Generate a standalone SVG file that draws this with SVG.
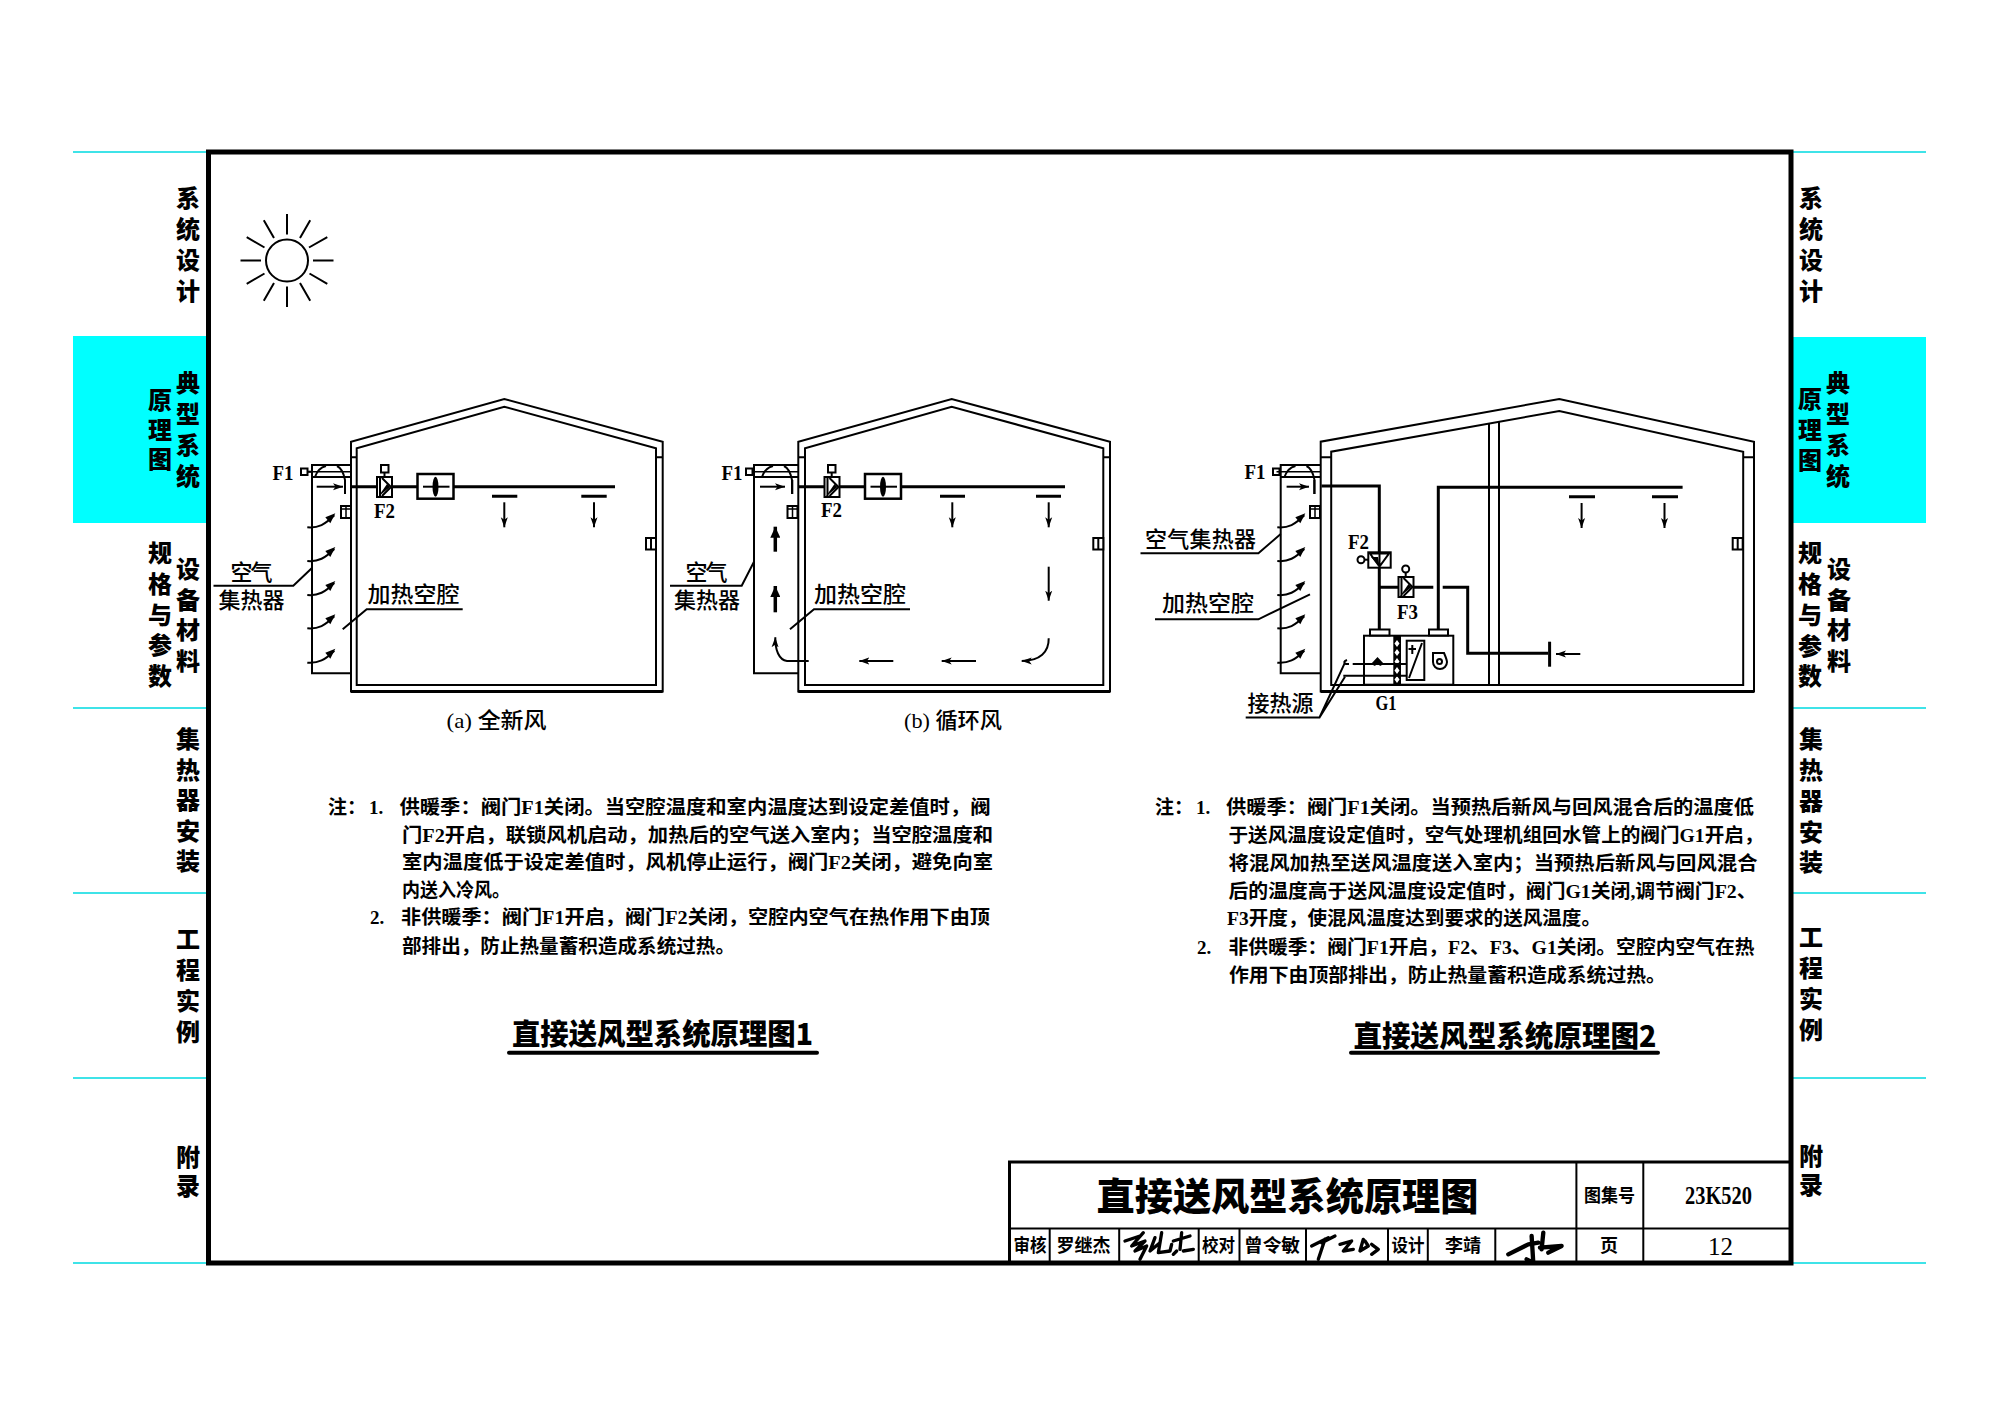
<svg xmlns="http://www.w3.org/2000/svg" width="2000" height="1414" viewBox="0 0 2000 1414">
<style>
text{font-family:"Liberation Serif","Noto Sans CJK SC",serif;font-weight:700;fill:#000;dominant-baseline:central}
.s{font-family:"Noto Sans CJK SC",sans-serif;font-size:24px;font-weight:900;writing-mode:vertical-rl;dominant-baseline:auto}
.n{font-size:19px}
.l{font-size:22px;font-weight:500;text-anchor:middle}
.f{font-size:22px;font-weight:700;text-anchor:middle}
.t{font-family:"Noto Sans CJK SC",sans-serif;font-size:29px;font-weight:900}
.b{font-size:18px;text-anchor:middle}
.k{fill:none;stroke:#000;stroke-width:2}
.k1{fill:none;stroke:#000;stroke-width:1.5}
.k3{fill:none;stroke:#000;stroke-width:3}
.w{fill:#fff;stroke:#000;stroke-width:2}
.c{stroke:#3fe3e8;stroke-width:2}
.ar{fill:none;stroke:#000;stroke-width:2;marker-end:url(#a)}
.au{fill:none;stroke:#000;stroke-width:3.5;marker-end:url(#u)}
.sg{fill:none;stroke:#000;stroke-width:10;stroke-linecap:round;stroke-linejoin:round}
</style>
<defs>
<marker id="a" markerUnits="userSpaceOnUse" markerWidth="12" markerHeight="8" refX="10" refY="4" orient="auto"><path d="M0,0.5 L10,4 L0,7.5 L2.5,4 Z"/></marker>
<marker id="u" markerUnits="userSpaceOnUse" markerWidth="12" markerHeight="10" refX="11" refY="5" orient="auto"><path d="M0,0 L11,5 L0,10 Z"/></marker>
<g id="ca"><path d="M0,0 C11,1 18,-3 27,-12" fill="none" stroke="#000" stroke-width="2"/><path d="M28,-14 L18,-10 L23,-4 Z"/></g>
<g id="box"><rect x="0" y="0" width="10" height="12" class="w"/><path d="M5,1 V12 M0,3 H10" class="k1"/></g>
<g id="boxr"><rect x="0" y="0" width="10" height="11.5" class="w"/><path d="M5,0 V11.5" class="k"/></g>
<g id="valve"><rect x="0" y="0" width="15" height="20" class="w"/><path d="M5,1 L14,10 L5,19 M3,1 V19" class="k"/><path d="M1,20 L13,10 L10,7 Z"/></g>
<g id="fan"><rect x="0" y="0" width="36" height="24.7" fill="#fff" stroke="#000" stroke-width="2.5"/><path d="M5.5,12.7 H32" class="k"/><ellipse cx="18" cy="12.7" rx="3" ry="10"/></g>
<g id="damper"><path d="M3,12 Q6,3 14,1" class="k"/><path d="M33,29 V15 Q31,4 25,1" class="k"/><path d="M-5,6.7H39" class="k1"/></g>
</defs>
<rect width="2000" height="1414" fill="#fff"/>

<g id="tab-left">
<rect x="73" y="336" width="134" height="187" fill="#00ffff"/>
<path class="c" d="M73,152H207M73,708H207M73,893H207M73,1078H207M73,1263H207"/>
<text class="s" x="188" y="186" letter-spacing="7">系统设计</text>
<text class="s" x="188" y="371" letter-spacing="7">典型系统</text>
<text class="s" x="160" y="388" letter-spacing="5.5">原理图</text>
<text class="s" x="188" y="557" letter-spacing="6.5">设备材料</text>
<text class="s" x="160" y="541" letter-spacing="6.7">规格与参数</text>
<text class="s" x="188" y="727" letter-spacing="6.5">集热器安装</text>
<text class="s" x="188" y="927" letter-spacing="7">工程实例</text>
<text class="s" x="188" y="1145" letter-spacing="5">附录</text>
</g>

<g id="tab-right">
<rect x="1793" y="337" width="133" height="186" fill="#00ffff"/>
<path class="c" d="M1793,152H1926M1793,708H1926M1793,893H1926M1793,1078H1926M1793,1263H1926"/>
<text class="s" x="1811" y="186" letter-spacing="7">系统设计</text>
<text class="s" x="1838" y="371" letter-spacing="7">典型系统</text>
<text class="s" x="1810" y="387" letter-spacing="6.5">原理图</text>
<text class="s" x="1839" y="557" letter-spacing="6.5">设备材料</text>
<text class="s" x="1810" y="541" letter-spacing="6.8">规格与参数</text>
<text class="s" x="1811" y="727" letter-spacing="6.8">集热器安装</text>
<text class="s" x="1811" y="925" letter-spacing="7">工程实例</text>
<text class="s" x="1811" y="1144" letter-spacing="5">附录</text>
</g>

<rect id="frame" x="208.5" y="152" width="1582.5" height="1111" fill="none" stroke="#000" stroke-width="5"/>

<g id="sun">
<circle cx="287" cy="260.5" r="21" class="k"/>
<path class="k" d="M287,234.5V214M300,238L310.2,220.2M309,247.5L327.3,237.2M313,260.5H333.5M309.5,273.5L327.3,283.8M300,283L310.2,300.8M287,286.5V307M274,283L263.8,300.8M264.5,273.5L246.7,283.8M261,260.5H240.5M264.5,247.5L246.7,237.2M274,238L263.8,220.2"/>
</g>

<g id="building-a">
<path class="k" d="M351,691.5V441.7L504.3,399L662.7,441.7V691.5Z" stroke-width="2.5"/>
<path class="k" d="M356.7,685V448.3L504.3,406.7L656,448.3V685Z"/>
<path class="k3" d="M351,691.5H662.7"/>
<path class="k" d="M351,457.3H356.7M656,457.3H662.7"/>
<g id="collector-a"><path class="k" d="M351,465H312V673.3H351M312,477H351"/><rect x="301" y="468.5" width="6.5" height="6.5" class="w"/><path class="k" d="M307.5,471.7H312"/><use href="#damper" x="312" y="465"/><use href="#box" x="341" y="506"/></g>
<use href="#boxr" x="646" y="538"/>
<use id="valve-f2-a" href="#valve" x="377" y="477"/>
<rect x="381" y="465" width="7.5" height="7.5" class="w"/><path class="k" d="M384.5,472.5V477"/>
<use id="fan-a" href="#fan" x="417.5" y="474"/>
<text class="f" x="283" y="472" textLength="21" lengthAdjust="spacingAndGlyphs">F1</text>
<text class="f" x="384.5" y="510.5" textLength="21" lengthAdjust="spacingAndGlyphs">F2</text>
<text class="l" x="251.5" y="572" textLength="42" lengthAdjust="spacing">空气</text>
<text class="l" x="251.5" y="600">集热器</text>
<text class="l" x="413.5" y="594" textLength="92" lengthAdjust="spacingAndGlyphs">加热空腔</text>
<text class="l" x="496.5" y="720" textLength="100" lengthAdjust="spacingAndGlyphs">(a) 全新风</text>
</g>

<g id="building-b">
<path class="k" d="M798.3,691.5V441.7L951.7,399L1110,441.7V691.5Z" stroke-width="2.5"/>
<path class="k" d="M805,685V448.3L951.7,406.7L1103.3,448.3V685Z"/>
<path class="k3" d="M798.3,691.5H1110"/>
<path class="k" d="M798.3,457.3H805M1103.3,457.3H1110"/>
<g id="collector-b"><path class="k" d="M798,465H754V673.3H798M754,477H798"/><rect x="746" y="468.5" width="6.5" height="6.5" class="w"/><path class="k" d="M752,471.7H754"/><use href="#damper" x="759" y="465"/><use href="#box" x="787.5" y="506"/></g>
<use href="#boxr" x="1093.3" y="538"/>
<use id="valve-f2-b" href="#valve" x="824.5" y="477"/>
<rect x="828" y="465" width="7.5" height="7.5" class="w"/><path class="k" d="M831.7,472.5V477"/>
<use id="fan-b" href="#fan" x="865" y="474"/>
<text class="f" x="732" y="472" textLength="21" lengthAdjust="spacingAndGlyphs">F1</text>
<text class="f" x="831.5" y="509.5" textLength="21" lengthAdjust="spacingAndGlyphs">F2</text>
<text class="l" x="706.5" y="572" textLength="42" lengthAdjust="spacing">空气</text>
<text class="l" x="707" y="600">集热器</text>
<text class="l" x="860" y="594" textLength="92" lengthAdjust="spacingAndGlyphs">加热空腔</text>
<text class="l" x="953" y="720" textLength="98" lengthAdjust="spacingAndGlyphs">(b) 循环风</text>
</g>

<g id="building-c">
<path class="k" d="M1320.7,691.5V441.7L1559.3,399L1754,441.7V691.5Z" stroke-width="2.5"/>
<path class="k" d="M1331.2,685V451.7L1559.3,411L1743.2,451.7V685Z"/>
<path class="k3" d="M1320.7,691.5H1754"/>
<path class="k" d="M1320.7,457.3H1331.2M1743.2,457.3H1754"/>
<path id="column-c" class="k" d="M1489,423.5V685M1499,421.7V685"/>
<g id="collector-c"><path class="k" d="M1320.7,465H1280.7V673.3H1320.7M1280.7,477H1320.7"/><rect x="1273" y="468.5" width="6.5" height="6.5" class="w"/><use href="#damper" x="1281.5" y="465"/><use href="#box" x="1310" y="506"/></g>
<use href="#boxr" x="1732.7" y="538"/>
<g id="ahu-c">
<rect x="1364" y="635.7" width="89.3" height="49" fill="#fff" stroke="#000" stroke-width="2"/>
<rect x="1370" y="629.5" width="19.5" height="6" class="w"/><rect x="1429" y="629.5" width="19" height="6" class="w"/>
<rect x="1393.3" y="635.7" width="7.7" height="49"/>
<path fill="#fff" d="M1397,640l2.5,3.5l-2.5,3.5l-2.5,-3.5ZM1397,649l2.5,3.5l-2.5,3.5l-2.5,-3.5ZM1397,658l2.5,3.5l-2.5,3.5l-2.5,-3.5ZM1397,667l2.5,3.5l-2.5,3.5l-2.5,-3.5ZM1397,676l2.5,3.5l-2.5,3.5l-2.5,-3.5Z"/>
<rect x="1406.7" y="640.7" width="17.6" height="39.3" class="w"/>
<path class="k" d="M1409,678L1422,643M1412.3,645V654M1408.5,649H1416"/>
<path class="k" d="M1433,653H1444Q1447,660 1447,662A7,7 0 0 1 1433,662Z" stroke-width="2.5"/><circle cx="1439.5" cy="661.5" r="2.5" class="k"/>
<path class="k" d="M1352.7,664H1406.7M1343.3,675.7H1406.7"/>
<path d="M1371,664L1377.5,657L1384,664L1380,666L1377.5,663L1375,666Z"/>
<path class="k" d="M1347,660Q1342,662 1346,664H1349"/>
</g>
<use id="valve-f3-c" href="#valve" x="1398.5" y="577"/>
<circle cx="1405.7" cy="569" r="3.5" class="w"/><path class="k" d="M1405.7,572.5V577"/>
<rect id="valve-f2-c" x="1368.3" y="552.3" width="22.4" height="15.4" class="w"/>
<path class="k" d="M1370,553.5H1389L1379.5,566.5Z M1379.5,552V568"/><path d="M1379.5,566.5L1371,557H1378Z"/>
<circle cx="1361" cy="559.7" r="3.5" class="w"/><path class="k" d="M1364.5,559.7H1368.3"/>
<text class="f" x="1255" y="471" textLength="21" lengthAdjust="spacingAndGlyphs">F1</text>
<text class="f" x="1358.5" y="541" textLength="21" lengthAdjust="spacingAndGlyphs">F2</text>
<text class="f" x="1407.5" y="611" textLength="21" lengthAdjust="spacingAndGlyphs">F3</text>
<text class="f" x="1386" y="702" textLength="21" lengthAdjust="spacingAndGlyphs">G1</text>
<text class="l" x="1200.5" y="539" textLength="111" lengthAdjust="spacing">空气集热器</text>
<text class="l" x="1208" y="603" textLength="92" lengthAdjust="spacingAndGlyphs">加热空腔</text>
<text class="l" x="1280.5" y="703" textLength="66" lengthAdjust="spacingAndGlyphs">接热源</text>
</g>

<g id="connectors">
<path class="k" d="M213.5,585.7H293.3L311.7,568.3M342.7,629.3L366.7,609.3H462.7"/>
<path class="k3" d="M350,486.7H377M392,486.7H417.5M453.5,486.7H615"/>
<path class="ar" d="M316.7,486.7H343"/><path class="k" d="M345,480V494"/>
<path class="k3" d="M492,496.3H517.3M581.3,496.3H606.7"/>
<path class="ar" d="M504.3,502.3V527.3"/><path class="ar" d="M594,502.3V527.3"/>
<use href="#ca" x="307.3" y="527.3"/><use href="#ca" x="307.3" y="561"/><use href="#ca" x="307.3" y="595"/><use href="#ca" x="307.3" y="628.3"/><use href="#ca" x="307.3" y="662.7"/>
<path class="k" d="M670,585.7H741.7L754,561.7M790,629.3L814,609.3H910"/>
<path class="k3" d="M798,486.7H824.5M839.5,486.7H865M901,486.7H1065"/>
<path class="ar" d="M760,486.7H785"/><path class="k" d="M792.3,480V494"/>
<path class="k3" d="M940,496.3H965M1036,496.3H1061"/>
<path class="ar" d="M952.3,502.3V527.3"/><path class="ar" d="M1048.7,502.3V527.3"/>
<path class="au" d="M775.3,551.7V526.7"/><path class="au" d="M775.3,612.3V586"/>
<path class="ar" d="M1048.7,566.7V600.7"/>
<path class="ar" d="M1048.7,638.3C1049,652 1040,661 1021.7,661"/>
<path class="ar" d="M976,661H941.7"/><path class="ar" d="M893.3,661H859.3"/>
<path class="ar" d="M808.7,661H787C779,660 775,650 775.3,637.3"/>
<path class="k" d="M1140.5,553.3H1258.4L1280.7,534M1155,619.3H1258.4L1310,594.3M1245.7,717.5H1319.5L1344.6,663.3M1319.5,717.5L1345,676.7"/>
<path class="k3" d="M1321.5,486H1379.3V552.3M1379.3,567.7V629.5M1379.3,587.3H1398.5M1413.5,587.3H1433.3M1442.7,587.3H1467.7V653.3H1548"/>
<path class="k3" d="M1438.3,629.5V487.3H1682.6"/>
<path class="k3" d="M1549.6,641.7V666.7"/>
<path class="ar" d="M1580.3,654H1556"/>
<path class="ar" d="M1286.6,486.7H1309"/><path class="k" d="M1314.3,480V494"/>
<path class="k3" d="M1569,496.7H1595M1652,496.7H1678"/>
<path class="ar" d="M1581.6,503V528"/><path class="ar" d="M1664.5,503V528"/>
<use href="#ca" x="1277.3" y="527.3"/><use href="#ca" x="1277.3" y="561"/><use href="#ca" x="1277.3" y="595"/><use href="#ca" x="1277.3" y="628.3"/><use href="#ca" x="1277.3" y="662.7"/>
</g>

<g id="notes-1">
<text class="n" x="328" y="807">注&#xFF1A;</text><text class="n" x="369" y="807">1.</text>
<text class="n" x="399.5" y="807" textLength="591" lengthAdjust="spacingAndGlyphs">供暖季&#xFF1A;阀门F1关闭&#x3002;当空腔温度和室内温度达到设定差值时&#xFF0C;阀</text>
<text class="n" x="402" y="835" textLength="591" lengthAdjust="spacingAndGlyphs">门F2开启&#xFF0C;联锁风机启动&#xFF0C;加热后的空气送入室内&#xFF1B;当空腔温度和</text>
<text class="n" x="402" y="862.5" textLength="591" lengthAdjust="spacingAndGlyphs">室内温度低于设定差值时&#xFF0C;风机停止运行&#xFF0C;阀门F2关闭&#xFF0C;避免向室</text>
<text class="n" x="402" y="890" textLength="108" lengthAdjust="spacingAndGlyphs">内送入冷风&#x3002;</text>
<text class="n" x="370" y="917.5">2.</text>
<text class="n" x="401" y="917.5" textLength="589" lengthAdjust="spacingAndGlyphs">非供暖季&#xFF1A;阀门F1开启&#xFF0C;阀门F2关闭&#xFF0C;空腔内空气在热作用下由顶</text>
<text class="n" x="402" y="946" textLength="333" lengthAdjust="spacingAndGlyphs">部排出&#xFF0C;防止热量蓄积造成系统过热&#x3002;</text>
</g>
<g id="title-1">
<text class="t" x="512" y="1032" textLength="301" lengthAdjust="spacingAndGlyphs">直接送风型系统原理图1</text>
<path d="M509,1052.7H817" stroke="#000" stroke-width="4" stroke-linecap="round"/>
</g>

<g id="notes-2">
<text class="n" x="1155" y="807">注&#xFF1A;</text><text class="n" x="1196" y="807">1.</text>
<text class="n" x="1226" y="807" textLength="528" lengthAdjust="spacingAndGlyphs">供暖季&#xFF1A;阀门F1关闭&#x3002;当预热后新风与回风混合后的温度低</text>
<text class="n" x="1228.5" y="835" textLength="535" lengthAdjust="spacingAndGlyphs">于送风温度设定值时&#xFF0C;空气处理机组回水管上的阀门G1开启&#xFF0C;</text>
<text class="n" x="1228.5" y="863" textLength="529" lengthAdjust="spacingAndGlyphs">将混风加热至送风温度送入室内&#xFF1B;当预热后新风与回风混合</text>
<text class="n" x="1228.5" y="891" textLength="528" lengthAdjust="spacingAndGlyphs">后的温度高于送风温度设定值时&#xFF0C;阀门G1关闭,调节阀门F2&#x3001;</text>
<text class="n" x="1227" y="918.5" textLength="374" lengthAdjust="spacingAndGlyphs">F3开度&#xFF0C;使混风温度达到要求的送风温度&#x3002;</text>
<text class="n" x="1197" y="947">2.</text>
<text class="n" x="1228.5" y="947" textLength="526" lengthAdjust="spacingAndGlyphs">非供暖季&#xFF1A;阀门F1开启&#xFF0C;F2&#x3001;F3&#x3001;G1关闭&#x3002;空腔内空气在热</text>
<text class="n" x="1229" y="975" textLength="437" lengthAdjust="spacingAndGlyphs">作用下由顶部排出&#xFF0C;防止热量蓄积造成系统过热&#x3002;</text>
</g>
<g id="title-2">
<text class="t" x="1353.5" y="1034" textLength="303" lengthAdjust="spacingAndGlyphs">直接送风型系统原理图2</text>
<path d="M1351,1052.7H1658" stroke="#000" stroke-width="4" stroke-linecap="round"/>
</g>

<g id="title-block">
<path class="k3" d="M1009.5,1263V1162H1791"/>
<path class="k" d="M1009.5,1228.5H1791M1576.4,1162V1263M1643.3,1162V1263M1049.7,1228.5V1263M1119.2,1228.5V1263M1198.7,1228.5V1263M1239.5,1228.5V1263M1306,1228.5V1263M1388,1228.5V1263M1427.8,1228.5V1263M1495.3,1228.5V1263"/>
<text x="1287.5" y="1193" font-size="38" text-anchor="middle" textLength="382" lengthAdjust="spacingAndGlyphs" style="font-family:'Noto Sans CJK SC',sans-serif;font-weight:900">直接送风型系统原理图</text>
<text class="b" x="1609.5" y="1196" textLength="51" lengthAdjust="spacingAndGlyphs">图集号</text>
<text class="b" x="1718.5" y="1195" style="font-size:25px" textLength="67" lengthAdjust="spacingAndGlyphs">23K520</text>
<text class="b" x="1609" y="1246">页</text>
<text class="b" x="1720.5" y="1246" style="font-size:25px;font-weight:400">12</text>
<text class="b" x="1030" y="1246" textLength="33" lengthAdjust="spacingAndGlyphs">审核</text>
<text class="b" x="1083.5" y="1246" textLength="54" lengthAdjust="spacingAndGlyphs">罗继杰</text>
<text class="b" x="1218.5" y="1246" textLength="33" lengthAdjust="spacingAndGlyphs">校对</text>
<text class="b" x="1272" y="1246" textLength="56" lengthAdjust="spacingAndGlyphs">曾令敏</text>
<text class="b" x="1408" y="1246" textLength="33" lengthAdjust="spacingAndGlyphs">设计</text>
<text class="b" x="1463" y="1246" textLength="36" lengthAdjust="spacingAndGlyphs">李靖</text>
<g transform="translate(1115,1226) scale(.3333)">
<path class="sg" d="M30,45L75,30M85,20L50,60L90,45L60,75L95,60L75,100M120,35L105,75L135,50M140,20L130,80L165,75L170,55M175,45L225,30M200,20L195,70M185,75L175,85M205,75L235,70"/>
<path class="sg" d="M590,60L640,35M630,40L610,100M660,30L620,50M675,55L710,45L685,75L715,70M745,40L735,75L760,60L750,45M770,85L790,70L770,55"/>
<path class="sg" style="stroke-width:13" d="M1180,85L1240,55L1270,50M1250,30L1255,110L1235,100M1285,20L1280,70M1275,65L1340,60L1300,80"/>
</g>
</g>
</svg>
